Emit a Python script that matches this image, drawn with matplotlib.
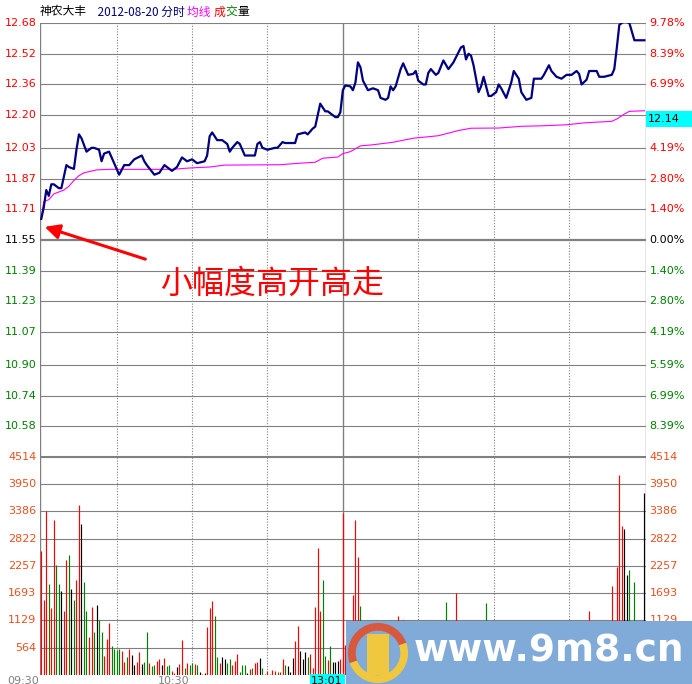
import matplotlib.pyplot as plt
import matplotlib.patches as mpatches
from matplotlib.transforms import blended_transform_factory

plt.rcParams['font.family'] = ['Noto Sans CJK SC', 'DejaVu Sans']

# ---- data ----
prev_close = 11.55

# price line vertices (minute index, price)
price_idx = [0, 1, 2, 3, 4, 5, 7, 8, 9, 10, 11, 13, 14, 15, 16, 18, 20, 21, 23, 24,
             25, 27, 28, 29, 31, 33, 35, 37, 40, 41, 42, 45, 47, 49, 51, 52, 54, 56, 58, 60,
             62, 65, 66, 67, 68, 70, 72, 74, 75, 76, 78, 79, 80, 81, 85, 86, 87, 88, 90, 93,
             94, 96, 97, 101, 102, 105, 106, 108, 109, 110, 111, 112, 113, 114, 115, 117, 118, 119, 120, 121,
             123, 124, 125, 126, 127, 128, 130, 132, 134, 135, 137, 138, 139, 140, 141, 143, 144, 146, 148, 149,
             150, 152, 153, 154, 155, 157, 158, 160, 162, 164, 167, 168, 169, 170, 171, 172, 173, 174, 175, 176,
             177, 178, 179, 181, 182, 183, 185, 187, 188, 190, 191, 193, 195, 196, 199, 200, 202, 203, 205, 207,
             209, 211, 213, 214, 215, 217, 218, 221, 222, 224, 227, 228, 229, 230, 232, 234, 236, 240]
price_val = [11.66, 11.72, 11.81, 11.78, 11.84, 11.84, 11.82, 11.82, 11.88, 11.94, 11.93, 11.92, 12.02, 12.10, 12.08, 12.01, 12.03, 12.03, 12.02, 11.96,
             12.00, 12.01, 11.98, 11.95, 11.89, 11.94, 11.94, 11.97, 11.99, 11.96, 11.94, 11.89, 11.90, 11.94, 11.92, 11.91, 11.93, 11.98, 11.96, 11.97,
             11.95, 11.96, 11.99, 12.09, 12.11, 12.07, 12.07, 12.05, 12.01, 12.03, 12.06, 12.05, 12.02, 11.99, 11.99, 12.05, 12.06, 12.03, 12.02, 12.03,
             12.03, 12.06, 12.055, 12.055, 12.10, 12.11, 12.10, 12.13, 12.14, 12.20, 12.26, 12.24, 12.22, 12.22, 12.21, 12.19, 12.19, 12.215, 12.33, 12.355,
             12.35, 12.33, 12.37, 12.475, 12.45, 12.38, 12.33, 12.34, 12.33, 12.29, 12.28, 12.29, 12.35, 12.33, 12.35, 12.44, 12.47, 12.41, 12.415, 12.43,
             12.38, 12.36, 12.36, 12.42, 12.44, 12.41, 12.42, 12.485, 12.44, 12.475, 12.553, 12.56, 12.49, 12.52, 12.51, 12.46, 12.39, 12.32, 12.35, 12.40,
             12.35, 12.30, 12.30, 12.32, 12.36, 12.34, 12.29, 12.37, 12.43, 12.39, 12.32, 12.28, 12.29, 12.39, 12.39, 12.41, 12.46, 12.43, 12.40, 12.39,
             12.41, 12.41, 12.43, 12.415, 12.36, 12.385, 12.43, 12.43, 12.40, 12.40, 12.41, 12.44, 12.55, 12.67, 12.69, 12.68, 12.59, 12.59]

# average line vertices
avg_idx = [0, 1, 3, 5, 9, 11, 13, 15, 17, 22, 27, 52, 58, 62, 67, 73, 95, 103, 109, 112,
           118, 120, 123, 127, 132, 140, 148, 158, 166, 171, 182, 191, 200, 209, 216, 227, 229, 232, 234, 240]
avg_val = [11.66, 11.75, 11.76, 11.79, 11.81, 11.83, 11.86, 11.885, 11.90, 11.915, 11.918, 11.918, 11.924, 11.927, 11.93, 11.94, 11.942, 11.95, 11.955, 11.976,
           11.982, 12.00, 12.01, 12.04, 12.046, 12.059, 12.08, 12.093, 12.12, 12.132, 12.133, 12.142, 12.145, 12.15, 12.16, 12.168, 12.18, 12.206, 12.22, 12.223]

# volume per minute (index 0..240) and bar colour (r up, g down, k flat), row by row
volume = [2558, 1555, 3401, 1887, 1396, 3215, 2281, 1887, 1742, 1327,
          2371, 2489, 1783, 1555, 1970, 3526, 3132, 1929, 1327, 788,
          1410, 892, 1452, 1141, 892, 394, 747, 1078, 601, 532,
          518, 539, 505, 277, 373, 539, 415, 207, 263, 477,
          228, 277, 892, 256, 187, 207, 290, 332, 207, 352,
          187, 207, 83, 48, 166, 228, 726, 145, 249, 207,
          249, 228, 207, 62, 21, 41, 995, 1390, 1535, 1224,
          373, 249, 373, 332, 249, 332, 207, 290, 435, 62,
          207, 207, 41, 124, 145, 249, 270, 352, 145, 21,
          83, 21, 104, 83, 62, 62, 332, 207, 187, 62,
          352, 705, 1016, 498, 332, 477, 373, 435, 145, 1410,
          2634, 1327, 1970, 394, 311, 601, 277, 263, 290, 332,
          3360,
          620, 480, 350, 1658, 3213, 2453, 1437, 760, 540, 420,
          380, 610, 450, 300, 520, 280, 360, 430, 690, 350,
          470, 1223, 580, 1140, 510, 320, 290, 410, 260, 380,
          220, 300, 250, 440, 360, 210, 330, 270, 400, 310,
          1513, 620, 350, 480, 1700, 720, 560, 390, 300, 450,
          520, 280, 360, 230, 410, 330, 1492, 450, 300, 260,
          390, 230, 310, 200, 280, 460, 520, 380, 300, 250,
          210, 180, 260, 300, 420, 350, 240, 200, 270, 330,
          220, 400, 280, 190, 230, 260, 180, 310, 250, 200,
          290, 350, 240, 180, 220, 300, 410, 1327, 520, 360,
          280, 230, 190, 260, 340, 780, 1852, 960, 2245, 4132,
          3095, 3013, 2073, 2177, 880, 1928, 650, 540, 720, 3766]
vol_color = ('rrrgrrggkr' 'rgkgrrkggr' 'rgkggrrrgg' 'ggrrgrkkrr' 'kggrggrrkr' 'ggrrkrrgrg'
             'grgkrkrrrg' 'grkkggrrrg' 'ggkrgrrkgg' 'rgrrgrrgkk' 'krrkkkgrrr' 'rrggrgkkkr'
             'r'
             'rgrrrrggrg' 'krgrgkrrrg' 'rrgrgkgrgr' 'gkgrrggrrg' 'ggrrrrrggk' 'ggkgrgggkr'
             'rgrggrrrgg' 'kgrrrrggrr' 'krgggkgrrg' 'krrggrrrrg' 'rgkrrrrrrr' 'rkkgkggkrk')

price_ticks = [12.68, 12.52, 12.36, 12.20, 12.03, 11.87, 11.71, 11.55,
               11.39, 11.23, 11.07, 10.90, 10.74, 10.58]
pct_labels = ['9.78%', '8.39%', '6.99%', '', '4.19%', '2.80%', '1.40%', '0.00%',
              '1.40%', '2.80%', '4.19%', '5.59%', '6.99%', '8.39%']
vol_ticks = [4514, 3950, 3386, 2822, 2257, 1693, 1129, 564]
time_labels = [(0, '09:30'), (60, '10:30'), (120, '13:01')]

cmap = {'r': '#ff0000', 'g': '#008000', 'k': '#000000'}

W, H = 692, 684
fig = plt.figure(figsize=(W / 100, H / 100), dpi=100)
fig.patch.set_facecolor('white')

def fx(px):
    return px / W

def fy(py):
    return 1 - py / H

L, R = 40, 645.7
ax_p = fig.add_axes([fx(L), fy(457), fx(R) - fx(L), fy(23) - fy(457)])
ax_v = fig.add_axes([fx(L), fy(675), fx(R) - fx(L), fy(457) - fy(675)])

grid_c = '#808080'
for ax in (ax_p, ax_v):
    ax.set_xlim(-0.5, 240.5)
    ax.set_xticks([])
    ax.set_yticks([])
    for s in ax.spines.values():
        s.set_visible(False)
    ax.axvline(-0.5, color=grid_c, lw=1)
    ax.axvline(240.5, color=grid_c, lw=1)
    for k in (30, 60, 90, 150, 180, 210):
        ax.axvline(k, color=grid_c, lw=0.8, ls=(0, (1, 1.5)))
    ax.axvline(120, color=grid_c, lw=1)

# price panel
ax_p.set_ylim(10.42, 12.68)
for t in price_ticks:
    ax_p.axhline(t, color=grid_c, lw=1.6 if t == prev_close else 0.8)
ax_p.axhline(10.42, color=grid_c, lw=2.2)
ax_p.plot(avg_idx, avg_val, color='#ff00ff', lw=0.8, zorder=3)
ax_p.plot(price_idx, price_val, color='#000080', lw=1.6, zorder=4)

tr = blended_transform_factory(ax_p.transAxes, ax_p.transData)
for t, pl in zip(price_ticks, pct_labels):
    c = '#ff0000' if t > prev_close else ('#000000' if t == prev_close else '#008000')
    ax_p.text(-0.006, t, f'{t:.2f}', transform=tr, ha='right', va='center',
              fontsize=8, color=c, family='DejaVu Sans')
    if pl:
        ax_p.text(1.006, t, pl, transform=tr, ha='left', va='center',
                  fontsize=8, color=c, family='DejaVu Sans')

# volume panel
ax_v.set_ylim(0, 4514)
for t in vol_ticks:
    ax_v.axhline(t, color=grid_c, lw=0.8)
ax_v.vlines(range(len(volume)), 0, volume, colors=[cmap[c] for c in vol_color], lw=0.85, zorder=3)
trv = blended_transform_factory(ax_v.transAxes, ax_v.transData)
for t in vol_ticks:
    ax_v.text(-0.006, t, str(t), transform=trv, ha='right', va='center',
              fontsize=8, color='#e8501e', family='DejaVu Sans')
    ax_v.text(1.006, t, str(t), transform=trv, ha='left', va='center',
              fontsize=8, color='#e8501e', family='DejaVu Sans')

# time labels along the bottom (cut by the image edge, as in the source)
trt = blended_transform_factory(ax_v.transData, fig.transFigure)
for i, lab in time_labels:
    if lab == '13:01':
        ax_v.text(i, fy(676), lab, transform=trt, ha='right', va='top', fontsize=8,
                  family='DejaVu Sans', color='#000000',
                  bbox=dict(boxstyle='square,pad=0.15', fc='#00ffff', ec='none'))
    else:
        ax_v.text(i - 1, fy(676), lab, transform=trt, ha='right', va='top', fontsize=8,
                  family='DejaVu Sans', color='#808080')

# header
hx = fx(40)
hy = fy(12)
parts = [('神农大丰', '#000000'), ('    2012-08-20 分时 ', '#000080'), ('均线 ', '#ff00ff'),
         ('成', '#ff0000'), ('交', '#008000'), ('量', '#000000')]
fig.canvas.draw()
rend = fig.canvas.get_renderer()
for txt, c in parts:
    t = fig.text(hx, hy, txt, color=c, fontsize=8.5, va='center', ha='left')
    hx += t.get_window_extent(rend).width / W

# current value box on the right
fig.patches.append(mpatches.Rectangle((fx(646), fy(127)), fx(692) - fx(646), fy(111) - fy(127),
                                      transform=fig.transFigure, fc='#00ffff', ec='none'))
fig.text(fx(648), fy(119), '12.14', fontsize=8, va='center', ha='left', family='DejaVu Sans')

# annotation
fig.text(fx(272), fy(284), '小幅度高开高走', color='#ff0000', fontsize=23, ha='center', va='center')
ax_p.annotate('', xy=(42, H - 226), xycoords='figure pixels',
              xytext=(148, H - 260), textcoords='figure pixels',
              arrowprops=dict(arrowstyle='-|>', color='#ff0000', lw=2.2, mutation_scale=22))

# site watermark in bottom right corner
fig.patches.append(mpatches.Rectangle((fx(346), 0), 1 - fx(346), fy(621),
                                      transform=fig.transFigure, fc='#80aad8', ec='none', zorder=5))
axl = fig.add_axes([fx(346), 0, fx(64), fy(622)])
axl.set_zorder(6)
axl.set_xlim(-1, 1)
axl.set_ylim(-1, 1)
axl.set_aspect('equal')
axl.axis('off')
axl.add_patch(mpatches.Wedge((0, 0), 0.97, 20, 200, width=0.25, fc='#d8583c', ec='none'))
axl.add_patch(mpatches.Wedge((0, 0), 0.97, 200, 380, width=0.25, fc='#f0c840', ec='none'))
axl.add_patch(mpatches.Rectangle((-0.35, -0.7), 0.7, 1.3, fc='#f0c840', ec='none'))
fig.text(fx(414), fy(652), 'www.9m8.cn', color='white', fontsize=27, fontweight='bold',
         family='DejaVu Sans', ha='left', va='center', zorder=7)

fig.savefig('out.png', dpi=100)
